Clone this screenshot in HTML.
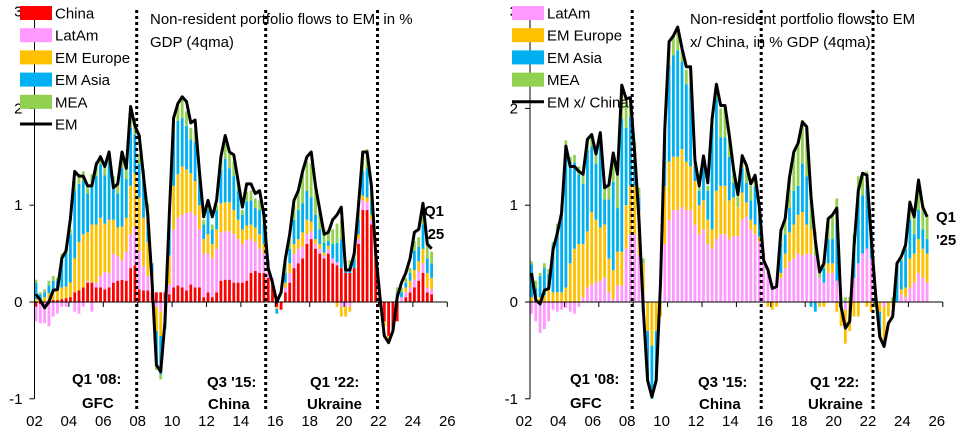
<!DOCTYPE html>
<html><head><meta charset="utf-8">
<style>
html,body{margin:0;padding:0;background:#fff;}
svg{display:block;font-family:"Liberation Sans",Arial,sans-serif;}
.t{font-size:15px;fill:#000;}
.b{font-size:15px;font-weight:bold;fill:#000;}
</style></head>
<body>
<svg id="chart" width="972" height="441" viewBox="0 0 972 441"></svg>
<script>
// ---------- Left chart data (EM incl. China), % GDP, quarterly 2002Q1..2025Q1 ----------
const quarterStartYear = 2002;
const yTicks = [3, 2, 1, 0, -1];
const xTickLabels = ["02","04","06","08","10","12","14","16","18","20","22","24","26"];
const emLine = [0.08,0.02,-0.06,0.0,0.12,0.13,0.45,0.53,0.86,1.35,1.3,1.3,1.2,1.2,1.42,1.5,1.4,1.55,1.18,1.22,1.55,1.38,2.02,1.82,1.72,1.3,0.9,0.2,-0.65,-0.72,-0.2,0.9,1.9,2.05,2.12,2.07,1.85,1.88,1.35,0.88,1.05,0.88,1.05,1.5,1.72,1.55,1.52,1.25,0.98,1.22,1.22,1.12,1.15,0.9,0.35,0.2,0.0,0.1,0.45,0.7,1.05,1.15,1.35,1.5,1.55,1.2,0.95,0.7,0.72,0.85,0.9,0.98,0.33,0.33,0.5,1.0,1.55,1.55,1.2,0.5,0.05,-0.35,-0.42,-0.3,0.05,0.2,0.3,0.45,0.72,0.75,1.02,0.6,0.55];
const china = [-0.05,-0.02,0.0,0.02,0.02,0.02,0.03,0.04,0.05,0.1,0.12,0.15,0.2,0.2,0.15,0.15,0.13,0.15,0.2,0.22,0.23,0.22,0.35,0.38,0.13,0.12,0.12,0.1,0.1,0.1,0.1,0.08,0.15,0.17,0.15,0.12,0.18,0.15,0.15,0.05,0.1,0.05,0.1,0.22,0.23,0.23,0.2,0.2,0.2,0.22,0.3,0.32,0.3,0.3,0.25,0.2,-0.05,-0.08,0.1,0.2,0.35,0.4,0.45,0.6,0.65,0.55,0.5,0.45,0.5,0.4,0.38,0.35,0.3,0.3,0.35,0.6,0.95,0.95,0.8,0.5,-0.05,-0.2,-0.35,-0.3,-0.2,0.0,0.05,0.1,0.15,0.22,0.3,0.1,0.08];
const latam = [-0.15,-0.2,-0.22,-0.25,-0.15,-0.12,-0.05,-0.05,0.0,-0.1,-0.12,-0.05,0.02,-0.1,0.05,0.12,0.18,0.15,0.3,0.25,0.2,0.3,0.35,0.4,0.4,0.25,0.15,0.05,-0.05,-0.1,-0.05,0.1,0.6,0.7,0.75,0.8,0.75,0.75,0.6,0.45,0.4,0.4,0.45,0.5,0.5,0.5,0.5,0.45,0.4,0.42,0.35,0.3,0.25,0.2,0.08,0.05,0.0,0.0,0.05,0.1,0.15,0.15,0.12,0.1,0.08,0.05,0.05,0.03,0.05,0.05,0.03,-0.05,-0.05,-0.05,0.0,0.05,0.1,0.08,0.05,0.0,0.0,0.0,0.0,0.0,0.05,0.05,0.05,0.05,0.08,0.1,0.1,0.05,0.05];
const emEurope = [0.03,0.03,0.05,0.07,0.1,0.1,0.12,0.12,0.15,0.35,0.5,0.55,0.5,0.6,0.6,0.6,0.5,0.55,0.35,0.3,0.35,0.35,0.5,0.55,0.55,0.5,0.35,0.15,-0.25,-0.25,-0.08,0.3,0.45,0.45,0.5,0.45,0.4,0.35,0.25,0.15,0.2,0.15,0.2,0.3,0.3,0.3,0.25,0.2,0.15,0.15,0.15,0.15,0.15,0.1,0.05,0.0,-0.02,0.0,0.05,0.1,0.1,0.1,0.15,0.15,0.1,0.05,0.05,0.03,0.03,0.0,-0.05,-0.1,-0.1,-0.05,0.0,0.05,0.05,0.05,0.05,0.05,0.0,-0.05,-0.05,0.0,0.0,0.0,0.05,0.07,0.1,0.1,0.15,0.15,0.12];
const emAsia = [0.17,0.05,0.05,0.08,0.1,0.1,0.3,0.35,0.5,0.7,0.6,0.55,0.4,0.4,0.5,0.55,0.5,0.6,0.35,0.35,0.6,0.4,0.6,0.4,0.35,0.4,0.3,0.1,-0.35,-0.4,-0.15,0.35,0.55,0.55,0.5,0.45,0.35,0.4,0.25,0.15,0.25,0.15,0.2,0.35,0.45,0.35,0.35,0.3,0.15,0.25,0.25,0.2,0.25,0.2,0.05,0.0,-0.05,0.0,0.1,0.15,0.25,0.3,0.3,0.3,0.25,0.25,0.15,0.1,0.05,0.15,0.2,0.3,0.08,0.08,0.1,0.15,0.25,0.3,0.15,0.0,0.02,0.0,0.0,0.0,0.05,0.05,0.05,0.08,0.2,0.15,0.25,0.15,0.15];
const mea = [0.03,0.02,0.03,0.05,0.05,0.03,0.05,0.05,0.05,0.1,0.1,0.1,0.1,0.12,0.15,0.1,0.1,0.1,0.1,0.1,0.15,0.15,0.2,0.15,0.1,0.1,0.1,0.0,-0.05,-0.05,0.0,0.05,0.15,0.15,0.2,0.15,0.12,0.12,0.1,0.05,0.05,0.05,0.05,0.1,0.15,0.15,0.15,0.1,0.05,0.1,0.1,0.1,0.1,0.05,0.0,0.0,0.0,0.0,0.1,0.1,0.15,0.2,0.3,0.3,0.35,0.3,0.2,0.15,0.12,0.15,0.2,0.2,0.05,0.05,0.05,0.1,0.2,0.2,0.15,0.0,0.0,0.0,0.0,0.0,0.05,0.05,0.05,0.05,0.1,0.1,0.15,0.15,0.12];
// ---------- Right chart data (EM ex China) ----------
const emXChinaLine = [0.3,0.02,-0.02,0.12,0.14,0.54,0.71,0.92,1.61,1.4,1.4,1.35,1.32,1.68,1.73,1.53,1.75,1.18,1.21,1.54,1.32,2.24,2.1,2.11,1.54,0.85,-0.08,-0.81,-0.98,-0.81,0.19,1.79,2.69,2.75,2.84,2.62,2.43,2.43,1.47,1.2,1.51,1.23,1.89,2.25,2.03,2.03,1.72,1.37,1.11,1.51,1.41,1.22,1.31,0.98,0.43,0.33,0.14,0.16,0.74,0.86,1.29,1.55,1.64,1.86,1.81,1.09,0.64,0.31,0.4,0.86,0.9,0.97,-0.05,-0.27,-0.2,0.57,1.15,1.33,1.31,0.67,0.09,-0.36,-0.46,-0.22,-0.15,0.4,0.47,0.59,1.03,0.88,1.26,0.98,0.88];
const latamR = [-0.12,-0.2,-0.32,-0.28,-0.2,-0.08,-0.1,-0.08,-0.06,-0.1,-0.12,-0.05,0.05,0.15,0.18,0.2,0.22,0.25,0.1,0.03,0.17,0.17,0.55,0.7,0.7,0.48,0.1,0.0,0.0,0.0,0.0,0.6,0.85,0.95,0.95,0.98,0.95,0.95,0.8,0.7,0.75,0.6,0.55,0.65,0.7,0.7,0.65,0.68,0.68,0.85,0.88,0.75,0.7,0.62,0.45,0.3,0.2,0.18,0.25,0.35,0.42,0.45,0.5,0.48,0.5,0.5,0.48,0.25,0.2,0.3,0.3,0.22,-0.05,-0.08,0.0,0.25,0.4,0.5,0.55,0.45,0.0,0.0,-0.05,0.0,0.0,0.0,0.08,0.05,0.15,0.2,0.3,0.25,0.2];
const emEuropeR = [0.05,0.05,0.05,0.07,0.15,0.1,0.1,0.1,0.15,0.4,0.55,0.6,0.55,0.58,0.75,0.65,0.55,0.55,0.35,0.3,0.35,0.35,0.45,0.5,0.5,0.45,0.3,-0.3,-0.45,-0.3,-0.15,0.6,0.6,0.55,0.55,0.6,0.5,0.45,0.45,0.3,0.3,0.25,0.2,0.5,0.5,0.5,0.4,0.4,0.3,0.28,0.15,0.1,0.1,0.05,0.0,-0.05,-0.08,-0.05,0.05,0.15,0.3,0.35,0.4,0.45,0.3,0.25,0.0,-0.05,-0.05,0.1,0.1,-0.1,-0.2,-0.35,-0.3,-0.15,-0.15,0.0,-0.05,-0.1,0.0,-0.1,-0.35,-0.15,-0.05,0.0,0.05,0.1,0.3,0.3,0.35,0.3,0.3];
const emAsiaR = [0.34,0.09,0.22,0.28,0.14,0.49,0.66,0.85,1.47,1.05,0.89,0.72,0.62,0.83,0.68,0.58,0.86,0.26,0.61,0.91,0.45,1.37,0.8,0.71,0.3,0.15,-0.1,-0.5,-0.55,-0.5,0.0,0.5,1.0,1.05,1.1,0.9,0.8,0.85,0.15,0.15,0.4,0.3,1.05,0.95,0.5,0.5,0.45,0.15,0.0,0.25,0.2,0.2,0.4,0.2,0.0,0.0,0.0,0.0,0.3,0.2,0.25,0.35,0.3,0.5,0.5,-0.05,-0.1,0.0,0.15,0.25,0.25,0.6,0.0,0.0,0.0,0.35,0.7,0.6,0.65,0.25,0.1,-0.2,-0.05,0.0,0.0,0.35,0.3,0.4,0.4,0.2,0.3,0.2,0.15];
const meaR = [0.03,0.08,0.03,0.05,0.05,0.03,0.05,0.05,0.05,0.05,0.08,0.08,0.1,0.12,0.12,0.1,0.12,0.12,0.15,0.3,0.35,0.35,0.3,0.2,0.15,0.1,0.05,0.0,0.0,0.0,0.0,0.05,0.2,0.2,0.2,0.15,0.15,0.15,0.1,0.05,0.05,0.05,0.1,0.15,0.3,0.3,0.2,0.15,0.15,0.15,0.15,0.15,0.1,0.1,0.05,0.05,0.0,0.0,0.15,0.15,0.3,0.4,0.45,0.45,0.5,0.4,0.25,0.1,0.1,0.2,0.25,0.25,0.05,0.05,0.05,0.1,0.2,0.2,0.15,0.05,-0.05,-0.05,0.0,0.0,0.05,0.05,0.05,0.05,0.2,0.2,0.3,0.25,0.25];
const eventQuarters = [24, 54, 80]; // 2008Q1, 2015Q3, 2022Q1

const NS = "http://www.w3.org/2000/svg";
const svg = document.getElementById("chart");
function mk(tag, attrs, parent){const e=document.createElementNS(NS,tag);for(const k in attrs)e.setAttribute(k,attrs[k]);(parent||svg).appendChild(e);return e;}

function drawChart(cfg){
  const g = mk("g",{});
  
  
  const ax = cfg.axisX, zeroY = 302, unit = 96.8, qStep = 4.3;
  const yScale = v => zeroY - v*unit;
  const xq = q => ax + q*qStep + 1.5;
  // bars
  const n = cfg.line.length;
  for(let q=0;q<n;q++){
    let pos=0, neg=0;
    cfg.series.forEach(s=>{
      const v = s.values[q];
      let y0,y1;
      if(v>=0){y0=pos;y1=pos+v;pos=y1;}else{y0=neg;y1=neg+v;neg=y1;}
      const top=Math.min(yScale(y0),yScale(y1)), h=Math.abs(yScale(y1)-yScale(y0));
      const r = mk("rect",{x:(xq(q)-1.4).toFixed(2),y:top.toFixed(2),width:2.8,height:h.toFixed(2),fill:s.color},g);
      
      
    });
  }
  // axes
  const yAxis = mk("line",{x1:ax,y1:yScale(3),x2:ax,y2:yScale(-1),stroke:"#000","stroke-width":1},g);
  
  
  yTicks.forEach(t=>{
    mk("line",{x1:ax-5,y1:yScale(t),x2:ax,y2:yScale(t),stroke:"#000"},g);
    const tx = mk("text",{x:ax-12,y:yScale(t)+5,"text-anchor":"end",class:"t"},g);
    tx.textContent = String(t);
    
    
  });
  const xAxis = mk("line",{x1:ax,y1:zeroY,x2:ax+24*17.2,y2:zeroY,stroke:"#000"},g);
  
  
  xTickLabels.forEach((lab,i)=>{
    const x = ax + i*2*17.2;
    mk("line",{x1:x,y1:zeroY,x2:x,y2:zeroY+5,stroke:"#000"},g);
    const tx = mk("text",{x:x-cfg.labelShift,y:426,"text-anchor":"middle",class:"t"},g);
    tx.textContent = lab;
    
    
  });
  // event lines
  eventQuarters.forEach(q=>{
    const x = ax + q*qStep - 1;
    const l = mk("line",{x1:x,y1:10,x2:x,y2:410,stroke:"#000","stroke-width":3,"stroke-dasharray":"3,3"},g);
    
    
  });
  // total line
  const pts = cfg.line.map((v,q)=>xq(q).toFixed(2)+","+yScale(v).toFixed(2)).join(" ");
  const pl = mk("polyline",{points:pts,fill:"none",stroke:"#000","stroke-width":3,"stroke-linejoin":"round"},g);
  
  
  // legend
  cfg.legend.forEach((e,i)=>{
    const y = 13 + i*22.2;
    if(e.line){
      mk("line",{x1:cfg.legendX,y1:y,x2:cfg.legendX+32,y2:y,stroke:"#000","stroke-width":3},g);
    } else {
      mk("rect",{x:cfg.legendX,y:y-7,width:32,height:14,fill:e.color},g);
    }
    const tx = mk("text",{x:cfg.legendX+35,y:y+5.5,class:"t"},g);
    tx.textContent = e.label;
    
    
  });
  // texts
  cfg.texts.forEach(t=>{
    const tx = mk("text",{x:t[0],y:t[1],class:t[3]?"b":"t"},g);
    tx.textContent = t[2];
    
    
  });
}

drawChart({
  name:"left-chart-em", axisX:34.5, labelShift:0, line:emLine,
  series:[{key:"china",values:china,color:"#FF0000"},{key:"latam",values:latam,color:"#FF99FF"},{key:"em-europe",values:emEurope,color:"#FFC000"},{key:"em-asia",values:emAsia,color:"#00B0F0"},{key:"mea",values:mea,color:"#92D050"}],
  legendX:20,
  legend:[{label:"China",color:"#FF0000"},{label:"LatAm",color:"#FF99FF"},{label:"EM Europe",color:"#FFC000"},{label:"EM Asia",color:"#00B0F0"},{label:"MEA",color:"#92D050"},{label:"EM",line:true}],
  texts:[[150,24,"Non-resident portfolio flows to EM, in %",0,"chart-title"],[150,47,"GDP (4qma)",0,"chart-title"],
    [72,384,"Q1 '08:",1,"annotation"],[82,408,"GFC",1,"annotation"],[207,387,"Q3 '15:",1,"annotation"],[208,409,"China",1,"annotation"],
    [310,387,"Q1 '22:",1,"annotation"],[307,409,"Ukraine",1,"annotation"],[424,216,"Q1",1,"annotation"],[424,239,"'25",1,"annotation"]]
});
drawChart({
  name:"right-chart-em-ex-china", axisX:530, labelShift:6, line:emXChinaLine,
  series:[{key:"latam",values:latamR,color:"#FF99FF"},{key:"em-europe",values:emEuropeR,color:"#FFC000"},{key:"em-asia",values:emAsiaR,color:"#00B0F0"},{key:"mea",values:meaR,color:"#92D050"}],
  legendX:512,
  legend:[{label:"LatAm",color:"#FF99FF"},{label:"EM Europe",color:"#FFC000"},{label:"EM Asia",color:"#00B0F0"},{label:"MEA",color:"#92D050"},{label:"EM x/ China",line:true}],
  texts:[[690,24,"Non-resident portfolio flows to EM",0,"chart-title"],[690,47,"x/ China, in % GDP (4qma)",0,"chart-title"],
    [570,384,"Q1 '08:",1,"annotation"],[570,408,"GFC",1,"annotation"],[698,387,"Q3 '15:",1,"annotation"],[699,409,"China",1,"annotation"],
    [810,387,"Q1 '22:",1,"annotation"],[808,409,"Ukraine",1,"annotation"],[936,222,"Q1",1,"annotation"],[936,245,"'25",1,"annotation"]]
});
</script>
</body></html>
